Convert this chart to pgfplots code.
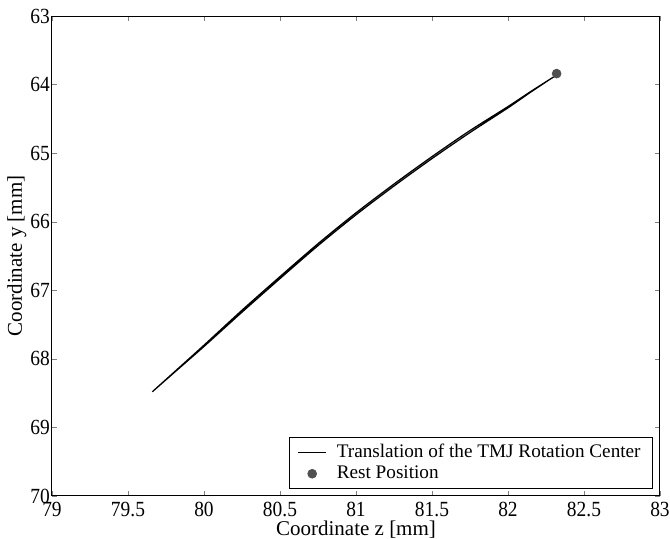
\documentclass[border=0pt]{standalone}
\usepackage{fontspec}
\setmainfont{Liberation Serif}
\newfontfamily\tickfont[FakeStretch=0.9]{Liberation Serif}
\usepackage{pgfplots}
\pgfplotsset{compat=1.18}
\definecolor{restgray}{RGB}{80,80,80}
\begin{document}
\begin{tikzpicture}
\begin{axis}[
  name=ax,
  scale only axis,
  width=304pt, height=240pt,
  xmin=79, xmax=83,
  ymin=63, ymax=70,
  y dir=reverse,
  xtick={79,79.5,...,83},
  ytick={63,...,70},
  xticklabels={79,79.5,80,80.5,81,81.5,82,82.5,83},
  yticklabels={63,64,65,66,67,68,69,70},
  tick align=inside,
  major tick length=2.5pt,
  xtick pos=both, ytick pos=both,
  axis line style={line width=0.5pt},
  xlabel={Coordinate z [mm]},
  ylabel={Coordinate y [mm]},
  xlabel style={at={(axis description cs:0.5,-0.071)}, anchor=center, inner sep=0pt},
  ylabel style={at={(axis description cs:-0.058,0.5)}, anchor=center, inner sep=0pt},
  xticklabel style={yshift=0.5pt},
  yticklabel style={xshift=2.5pt},
  ticklabel style={font=\tickfont\fontsize{10.8}{12}\selectfont},
  label style={font=\fontsize{10.5}{12}\selectfont},
  legend style={at={(1,0)}, xshift=-3.5pt, yshift=3.5pt, anchor=south east, draw=black, line width=0.4pt,
    font=\fontsize{9.6}{11}\selectfont, cells={anchor=west},
    inner xsep=4pt, inner ysep=1.5pt, row sep=-1.5pt},
  legend image code/.code={\draw[#1] (0pt,0pt) -- (14pt,0pt); \path (17pt,0pt);},
]
% rotation center path, out and back (loop)
\addplot[black, line width=0.6pt, smooth] coordinates {
  (82.32,63.86) (82.15,64.10) (82.00,64.32) (81.75,64.67) (81.50,65.05)
  (81.25,65.45) (81.00,65.87) (80.75,66.32) (80.50,66.80) (80.25,67.29)
  (80.00,67.80) (79.83,68.14) (79.66,68.48)
  (79.83,68.15) (80.00,67.82) (80.25,67.32) (80.50,66.83) (80.75,66.35)
  (81.00,65.90) (81.25,65.48) (81.50,65.08) (81.75,64.70) (82.00,64.34)
  (82.15,64.11) (82.32,63.86)
};
\addlegendentry{Translation of the TMJ Rotation Center}
\addplot[only marks, mark=*, mark size=2.2pt, restgray, mark options={draw=restgray, fill=restgray},
  legend image code/.code={\fill[restgray] (7pt,0pt) circle (2.2pt); \path (0pt,0pt) (17pt,0pt);}]
  coordinates {(82.32,63.84)};
\addlegendentry{Rest Position}
\end{axis}
\pgfresetboundingbox
\path ([shift={(-26pt,-21.5pt)}]ax.south west) rectangle ([shift={(5pt,8pt)}]ax.north east);
\end{tikzpicture}
\end{document}
